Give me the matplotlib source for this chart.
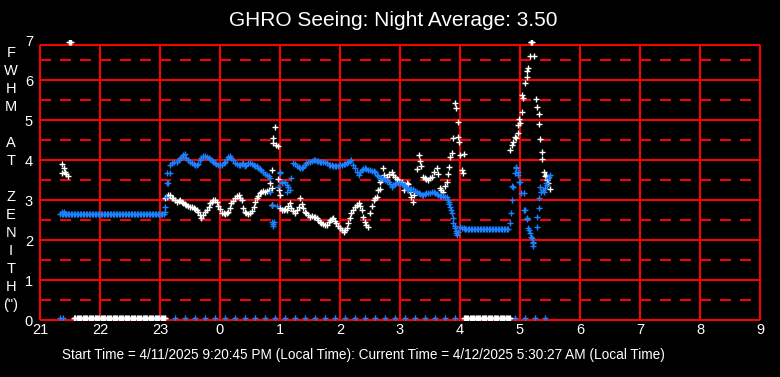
import numpy as np
import matplotlib
matplotlib.use("Agg")
import matplotlib.pyplot as plt

plt.rcParams['font.family'] = ['Liberation Sans', 'DejaVu Sans']
plt.rcParams['lines.scale_dashes'] = False

# ---------------- data (hours; 24+ means after midnight) ----------------
title = "GHRO Seeing: Night Average: 3.50"
footer = "Start Time = 4/11/2025 9:20:45 PM (Local Time): Current Time = 4/12/2025 5:30:27 AM (Local Time)"
ylabel_letters = ["F", "W", "H", "M", "", "A", "T", "", "Z", "E", "N", "I", "T", "H", "(\")"]
x_ticks = list(range(21, 34))
x_tick_labels = ["21", "22", "23", "0", "1", "2", "3", "4", "5", "6", "7", "8", "9"]
y_ticks = [0, 1, 2, 3, 4, 5, 6, 7]

# white: seeing FWHM samples
white_t = [21.36, 21.40, 21.37, 21.42, 21.46, 21.44, 21.48, 21.50, 21.52,
           23.08, 23.11, 23.14, 23.17, 23.20, 23.22, 23.25, 23.28, 23.31, 23.33,
           23.36, 23.39, 23.42, 23.44, 23.47, 23.50, 23.53, 23.56, 23.58, 23.61,
           23.64, 23.66, 23.69, 23.72, 23.75, 23.78, 23.81, 23.84, 23.86, 23.89,
           23.92, 23.95, 23.97, 24.00, 24.03, 24.06, 24.09, 24.11, 24.14, 24.17,
           24.19, 24.22, 24.25, 24.28, 24.31, 24.34, 24.36, 24.39, 24.42, 24.44,
           24.47, 24.50, 24.53, 24.56, 24.58, 24.61, 24.64, 24.67, 24.69, 24.72,
           24.75, 24.78, 24.81,
           24.83, 24.86, 24.86, 24.88, 24.89, 24.92, 24.96, 24.93, 24.97, 24.98,
           24.86, 25.00, 25.00, 25.03, 25.06, 25.08, 25.11, 25.14, 25.17, 25.19,
           25.22, 25.25, 25.28, 25.31, 25.34, 25.36, 25.39, 25.42, 25.44, 25.47,
           25.50, 25.53, 25.56, 25.58, 25.61, 25.64, 25.67, 25.69, 25.72, 25.75,
           25.78, 25.81, 25.83, 25.86, 25.89, 25.92, 25.94, 25.97, 26.00, 26.03,
           26.06, 26.08, 26.11, 26.14, 26.17, 26.19, 26.22, 26.25, 26.28, 26.31,
           26.33, 26.36, 26.39, 26.42, 26.44, 26.47, 26.50, 26.53, 26.56, 26.58,
           26.61, 26.64, 26.66, 26.67, 26.69, 26.72, 26.74, 26.78, 26.81, 26.86,
           26.89, 26.92, 26.95, 26.97, 27.03, 27.06, 27.08, 27.11, 27.14, 27.17,
           27.19, 27.21, 27.24, 27.28, 27.31, 27.33, 27.35, 27.39, 27.42, 27.44,
           27.47, 27.50, 27.53, 27.56, 27.61, 27.63, 27.67, 27.69, 27.72, 27.75,
           27.78, 27.80, 27.81, 27.83, 27.86, 27.89, 27.92, 27.94, 27.97, 27.96,
           27.99, 28.00, 28.03, 28.05, 28.06,
           28.83, 28.86, 28.88, 28.92, 28.93, 28.96, 28.97, 29.00, 28.99, 29.03,
           29.04, 29.05, 29.08, 29.12, 29.11, 29.14, 29.16, 29.23, 29.18, 29.19,
           29.20, 29.27, 29.29, 29.31, 29.32, 29.33, 29.36, 29.37, 29.40, 29.44,
           29.47, 29.50, 29.42, 29.45]
white_v = [3.90, 3.79, 3.67, 3.71, 3.60, 3.65, 6.94, 6.94, 6.94,
           3.05, 3.08, 3.12, 3.12, 3.06, 3.04, 3.00, 2.94, 2.98, 3.00,
           2.95, 2.92, 2.90, 2.88, 2.86, 2.83, 2.82, 2.79, 2.77, 2.75,
           2.71, 2.63, 2.54, 2.62, 2.71, 2.76, 2.83, 2.92, 2.96, 2.99,
           3.00, 2.95, 2.85, 2.77, 2.67, 2.67, 2.66, 2.68, 2.71, 2.79,
           2.92, 2.97, 3.04, 3.09, 3.12, 3.05, 3.00, 2.79, 2.70, 2.67,
           2.66, 2.68, 2.72, 2.82, 2.96, 3.06, 3.10, 3.18, 3.20, 3.22,
           3.21, 3.22, 3.24,
           3.42, 3.75, 3.29, 4.54, 4.43, 4.83, 4.35, 4.38, 3.52, 3.25,
           2.88, 3.12, 2.79, 2.76, 2.75, 2.78, 2.75, 2.86, 2.92, 2.80,
           2.72, 2.67, 2.75, 2.83, 3.04, 2.90, 2.79, 2.70, 2.67, 2.62,
           2.58, 2.60, 2.58, 2.57, 2.54, 2.50, 2.45, 2.42, 2.40, 2.38,
           2.37, 2.45, 2.50, 2.52, 2.54, 2.48, 2.42, 2.35, 2.29, 2.24,
           2.21, 2.24, 2.30, 2.42, 2.55, 2.67, 2.76, 2.83, 2.88, 2.92,
           2.86, 2.75, 2.58, 2.45, 2.37, 2.32, 2.67, 2.84, 3.00, 3.06,
           3.08, 3.25, 3.27, 3.46, 3.50, 3.79, 3.62, 3.58, 3.66, 3.71,
           3.62, 3.58, 3.52, 3.50, 3.46, 3.25, 3.35, 3.42, 3.40, 3.20,
           3.08, 2.96, 3.13, 3.78, 4.12, 3.98, 3.85, 3.58, 3.56, 3.52,
           3.50, 3.55, 3.58, 3.71, 3.79, 3.65, 3.29, 3.25, 3.21, 3.35,
           3.46, 3.64, 3.83, 4.08, 4.17, 4.54, 5.42, 5.29, 4.94, 4.58,
           4.44, 4.12, 3.75, 3.68, 4.14,
           4.25, 4.38, 4.46, 4.58, 4.55, 4.67, 4.88, 4.92, 5.03, 5.19,
           5.62, 5.55, 5.92, 6.08, 6.22, 6.29, 6.60, 6.60, 6.94, 6.94,
           6.94, 5.52, 5.33, 5.14, 4.89, 4.52, 4.19, 4.02, 3.69, 3.62,
           3.42, 3.27, 3.60, 3.50]

# white samples reported as 0 (no measurement)
white_zero_a_t = np.arange(21.57, 23.11, 0.02)
white_zero_b_t = np.arange(28.06, 28.84, 0.02)
white_zero_v = 0.05

# blue: second measurement series
blue_flat_a_t = np.arange(21.34, 23.08, 0.025)
blue_flat_a_v = 2.64
blue_flat_b_t = np.arange(28.08, 28.82, 0.025)
blue_flat_b_v = 2.27

blue_t = [21.36, 21.40, 21.44,
          23.08, 23.09, 23.10, 23.11, 23.12, 23.14, 23.17, 23.17, 23.20, 23.24,
          23.28, 23.31, 23.33, 23.36, 23.39, 23.42, 23.44, 23.47, 23.50, 23.53,
          23.56, 23.58, 23.61, 23.64, 23.67, 23.69, 23.72, 23.75, 23.78, 23.81,
          23.84, 23.86, 23.89, 23.92, 23.94, 23.97, 24.00, 24.03, 24.06, 24.08,
          24.11, 24.14, 24.17, 24.19, 24.22, 24.25, 24.28, 24.31, 24.33, 24.36,
          24.39, 24.42, 24.44, 24.47, 24.50, 24.53, 24.56, 24.58, 24.61, 24.64,
          24.67, 24.69, 24.72, 24.75, 24.78, 24.81, 24.83,
          24.83, 24.86, 24.87, 24.88, 24.89, 24.90, 24.95, 24.97, 25.00, 25.00,
          25.03, 25.03, 25.08, 25.11, 25.11, 25.14, 25.17, 25.19,
          25.22, 25.25, 25.28, 25.31, 25.33, 25.36, 25.39, 25.42, 25.44, 25.47,
          25.50, 25.53, 25.56, 25.58, 25.61, 25.64, 25.67, 25.69, 25.72, 25.75,
          25.78, 25.81, 25.83, 25.86, 25.89, 25.92, 25.94, 25.97, 26.00, 26.03,
          26.06, 26.08, 26.11, 26.14, 26.17, 26.19, 26.22, 26.25, 26.28, 26.31,
          26.33, 26.36, 26.39, 26.42, 26.44, 26.47, 26.50, 26.53, 26.56, 26.58,
          26.61, 26.64, 26.67, 26.69, 26.72, 26.75, 26.78, 26.81, 26.83, 26.86,
          26.89, 26.92, 26.94, 26.97, 27.00, 27.03, 27.06, 27.08, 27.11, 27.14,
          27.17, 27.19, 27.22, 27.25, 27.28, 27.31, 27.33, 27.36, 27.39, 27.42,
          27.44, 27.47, 27.50, 27.53, 27.56, 27.58, 27.61, 27.64, 27.67, 27.69,
          27.72, 27.75, 27.78, 27.80, 27.81, 27.82, 27.83, 27.85, 27.86, 27.88,
          27.89, 27.91, 27.92, 27.93, 27.94, 27.95, 27.97, 28.00, 28.03, 28.06,
          28.84, 28.85, 28.86, 28.87, 28.89, 28.92, 28.93, 28.94, 28.96, 28.97,
          28.98, 29.00, 29.02, 29.06, 29.07, 29.08, 29.11, 29.12, 29.14, 29.15,
          29.17, 29.18, 29.20, 29.21, 29.22, 29.22, 29.28, 29.29, 29.31, 29.32,
          29.33, 29.35, 29.39, 29.40, 29.42, 29.44, 29.45, 29.47, 29.49, 29.50]
blue_v = [2.69, 2.70, 2.66,
          2.71, 2.83, 3.08, 3.42, 3.67, 3.42, 3.67, 3.88, 3.92, 3.95,
          3.96, 4.00, 4.04, 4.08, 4.12, 4.15, 4.05, 4.00, 3.96, 3.92,
          3.90, 3.88, 3.88, 3.90, 4.00, 4.06, 4.10, 4.09, 4.07, 4.05,
          4.02, 4.00, 3.96, 3.92, 3.90, 3.88, 3.88, 3.88, 3.93, 3.96,
          4.03, 4.08, 4.10, 4.05, 4.00, 3.92, 3.90, 3.88, 3.87, 3.90,
          3.92, 3.85, 3.88, 3.93, 3.93, 3.90, 3.88, 3.86, 3.84, 3.81,
          3.78, 3.75, 3.71, 3.66, 3.62, 3.60, 3.54,
          3.20, 2.88, 2.46, 2.40, 2.35, 2.46, 2.85, 3.33, 3.67, 3.71,
          3.46, 3.42, 3.46, 3.38, 3.21, 3.33, 3.25, 3.54,
          3.92, 3.90, 3.86, 3.82, 3.79, 3.79, 3.82, 3.88, 3.92, 3.95,
          3.96, 3.98, 4.00, 4.00, 3.98, 3.97, 3.96, 3.96, 3.96, 3.96,
          3.92, 3.88, 3.88, 3.88, 3.86, 3.86, 3.85, 3.85, 3.88, 3.88,
          3.90, 3.90, 3.92, 3.94, 3.98, 4.00, 3.88, 3.79, 3.70, 3.62,
          3.70, 3.75, 3.78, 3.79, 3.77, 3.76, 3.75, 3.73, 3.72, 3.71,
          3.62, 3.60, 3.56, 3.55, 3.54, 3.50, 3.47, 3.46, 3.40, 3.33,
          3.38, 3.40, 3.42, 3.42, 3.42, 3.40, 3.38, 3.36, 3.30, 3.25,
          3.27, 3.27, 3.27, 3.22, 3.20, 3.17, 3.14, 3.13, 3.12, 3.15,
          3.17, 3.17, 3.18, 3.20, 3.21, 3.18, 3.15, 3.12, 3.11, 3.10,
          3.09, 3.08, 3.08, 3.00, 2.96, 2.90, 2.83, 2.75, 2.68, 2.55,
          2.42, 2.35, 2.29, 2.22, 2.17, 2.12, 2.20, 2.33, 2.30, 2.29,
          2.43, 2.68, 3.00, 3.35, 3.33, 3.67, 3.82, 3.79, 3.71, 3.62,
          3.44, 3.46, 3.17, 3.17, 2.75, 2.75, 2.54, 2.52, 2.29, 2.25,
          2.17, 2.08, 2.04, 1.96, 1.92, 1.85, 2.33, 2.58, 2.79, 3.04,
          3.33, 3.21, 3.25, 3.21, 3.30, 3.42, 3.38, 3.54, 3.58, 3.62]

# blue samples reported as 0 (every 10 minutes)
blue_zero_t = [21.33, 21.39] + list(np.arange(21.583, 29.43, 1 / 6))
blue_zero_v = 0.05

# ---------------- figure ----------------
W, H = 780, 377
fig = plt.figure(figsize=(W / 100, H / 100), dpi=100, facecolor='black')
ax = fig.add_axes([40 / W, (H - 320) / H, 720 / W, 280 / H], facecolor='black')
ax.set_xlim(21, 33)
ax.set_ylim(0, 7)
for s in ax.spines.values():
    s.set_visible(False)

red = '#ff0000'
lw = 1.44
top_line = 6.875
solid_levels = [0, 1, 2, 3, 4, 5, 6, top_line]
dash_levels = [0.5, 1.5, 2.5, 3.5, 4.5, 5.5, 6.5]
ax.hlines(solid_levels, 21, 33, colors=red, linewidth=lw, zorder=1,
          clip_on=False, antialiaseds=False)
ax.hlines(dash_levels, 21, 33, colors=red, linewidth=lw, zorder=1,
          linestyles=[(0, (7.7, 6.7))], clip_on=False, antialiaseds=False)
ax.vlines(x_ticks, 0, top_line, colors=red, linewidth=lw, zorder=1,
          clip_on=False, antialiaseds=False)

wkw = dict(linestyle='none', marker='+', color='white', markersize=5.0,
           markeredgewidth=1.0, zorder=3, antialiased=False)
bkw = dict(linestyle='none', marker='+', color='#1a82ff', markersize=5.0,
           markeredgewidth=1.0, zorder=3, antialiased=False)

ax.plot(blue_zero_t, [blue_zero_v] * len(blue_zero_t), **bkw)
ax.plot(white_zero_a_t, [white_zero_v] * len(white_zero_a_t), **wkw)
ax.plot(white_zero_b_t, [white_zero_v] * len(white_zero_b_t), **wkw)
ax.plot(white_t, white_v, **wkw)
ax.plot(blue_flat_a_t, [blue_flat_a_v] * len(blue_flat_a_t), **bkw)
ax.plot(blue_flat_b_t, [blue_flat_b_v] * len(blue_flat_b_t), **bkw)
ax.plot(blue_t, blue_v, **bkw)

ax.set_xticks(x_ticks)
ax.set_xticklabels(x_tick_labels)
ax.set_yticks(y_ticks)
ax.tick_params(axis='both', colors='white', length=0, labelsize=10.5)
ax.tick_params(axis='x', pad=2)
ax.tick_params(axis='y', pad=5)

fig.text(393 / W, 1 - 20 / H, title, color='white', fontsize=15,
         ha='center', va='center')
fig.text(363 / W, 1 - 355 / H, footer, color='white', fontsize=9.8,
         ha='center', va='center')

y0 = 53
for i, ch in enumerate(ylabel_letters):
    if ch:
        fig.text(11 / W, 1 - (y0 + 18 * i) / H, ch, color='white', fontsize=10.5,
                 ha='center', va='center')

fig.savefig('out.png', dpi=100, facecolor='black')
